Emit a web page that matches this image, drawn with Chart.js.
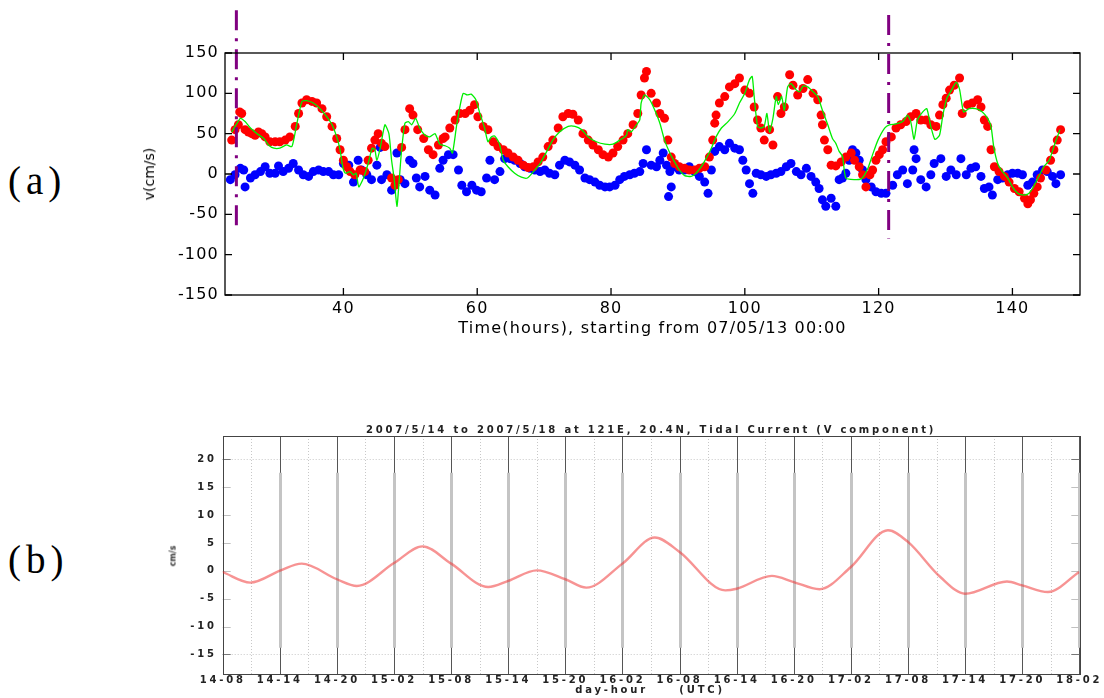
<!DOCTYPE html>
<html>
<head>
<meta charset="utf-8">
<script src="https://cdn.jsdelivr.net/npm/chart.js@4.4.0/dist/chart.umd.min.js"></script>
<style>
  body { margin: 0; background: #fff; width: 1104px; height: 698px; position: relative; overflow: hidden; }
  canvas { position: absolute; }
  .lbl { position: absolute; white-space: pre; color: #000; }
  .panel { font-family: "Liberation Serif", serif; font-size: 39px; line-height: 39px; letter-spacing: 5px; left: 8px; }
  .rot { transform: translate(-50%, -50%) rotate(-90deg); }
  .ctr { transform: translate(-50%, -50%); }
</style>
</head>
<body>
<canvas id="chartA" width="974" height="345" style="left:130px;top:0px;"></canvas>
<canvas id="chartB" width="974" height="283" style="left:130px;top:415px;"></canvas>

<div class="lbl panel" style="top:161px;">(a)</div>
<div class="lbl panel" style="top:540px;">(b)</div>
<div class="lbl rot" style="left:149px;top:174px;font:14px 'DejaVu Sans';">v(cm/s)</div>
<div class="lbl ctr" style="left:651px;top:429px;font:bold 10px 'DejaVu Sans';letter-spacing:2.8px;color:#222;">2007/5/14 to 2007/5/18 at 121E, 20.4N, Tidal Current (V component)</div>
<div class="lbl ctr" style="left:650px;top:689px;font:bold 10px 'DejaVu Sans';letter-spacing:2.8px;color:#222;">day-hour     (UTC)</div>
<div class="lbl rot" style="left:173px;top:556px;font:bold 8px 'DejaVu Sans';color:#333;">cm/s</div>

<script>
// (a) observed current, hours from 07/05/13 00:00
const redHours = [23.3, 23.8, 24.3, 24.5, 24.8, 25.3, 25.8, 26.3, 26.8, 27.3, 27.8, 28.3, 29.0, 29.8, 30.5, 31.3, 32.0, 32.8, 33.3, 33.8,
  34.5, 35.3, 36.0, 36.8, 37.5, 38.3, 39.0, 39.5, 40.0, 40.5, 41.0, 41.7, 42.5, 43.2, 43.7, 44.2, 44.7, 45.2, 45.7, 46.2,
  47.2, 47.7, 48.2, 48.7, 49.2, 49.9, 50.4, 51.1, 52.0, 52.7, 53.4, 54.2, 54.9, 55.2, 55.9, 56.7, 57.4, 58.2, 58.9, 59.6,
  60.1, 60.9, 61.6, 62.4, 63.1, 63.9, 64.6, 65.4, 66.1, 66.9, 67.6, 68.4, 69.1, 69.8, 70.6, 71.3, 72.1, 72.8, 73.6, 74.3,
  75.1, 75.8, 76.6, 77.3, 78.1, 78.8, 79.6, 80.3, 81.0, 81.8, 82.5, 83.3, 84.0, 84.5, 85.0, 85.3, 86.0, 86.8, 87.3, 88.0,
  88.5, 89.0, 89.5, 90.2, 91.0, 91.7, 92.5, 93.2, 94.0, 94.7, 95.2, 95.5, 95.7, 96.2, 97.0, 97.7, 98.5, 99.2, 100.0, 100.7,
  101.4, 101.9, 102.4, 102.9, 103.7, 104.2, 104.9, 105.4, 105.9, 106.7, 107.2, 107.9, 108.7, 109.4, 110.2, 110.9, 111.4, 111.6, 111.9, 112.4,
  112.9, 113.6, 114.4, 115.1, 115.9, 116.4, 117.1, 117.6, 118.1, 118.7, 119.1, 119.6, 120.1, 120.6, 121.1, 121.9, 122.6, 123.3, 124.1, 124.8,
  125.6, 126.3, 127.1, 127.8, 128.6, 129.1, 129.6, 130.1, 130.6, 131.3, 132.1, 132.5, 133.3, 134.0, 134.8, 135.3, 135.8, 136.3, 136.8, 137.3,
  138.0, 138.8, 139.5, 140.3, 141.0, 141.8, 142.3, 142.7, 143.2, 143.7, 144.2, 145.0, 145.7, 146.2, 146.7, 147.2];
const redVals = [42, 55, 61, 77, 75, 55, 52, 50, 48, 52, 50, 46, 40, 40, 40, 42, 46, 59, 75, 88,
  92, 90, 88, 81, 71, 59, 44, 30, 17, 9, 3, -1, 5, 3, 17, 32, 42, 50, 38, 34,
  -5, -14, -7, 33, 55, 81, 73, 55, 44, 30, 24, 36, 44, 46, 57, 67, 75, 75, 79, 86,
  71, 59, 55, 40, 34, 30, 26, 21, 17, 11, 8, 9, 15, 21, 34, 42, 57, 71, 75, 74,
  67, 50, 42, 36, 30, 24, 21, 26, 34, 42, 50, 61, 75, 98, 119, 127, 100, 88, 75, 69,
  42, 21, 13, 9, 7, 5, 5, 7, 9, 21, 42, 63, 73, 88, 96, 108, 112, 119, 104, 100,
  83, 67, 57, 42, 55, 36, 96, 75, 83, 123, 110, 98, 106, 117, 100, 92, 73, 61, 42, 30,
  11, 10, 15, 21, 26, 17, 9, -1, -16, -1, 5, 17, 24, 30, 40, 46, 57, 61, 65, 71,
  75, 67, 67, 61, 59, 73, 86, 94, 104, 110, 119, 75, 86, 88, 92, 83, 67, 59, 30, 9,
  3, -3, -10, -18, -22, -30, -37, -32, -24, -16, -5, 5, 17, 30, 42, 55];

const blueHours = [23.1, 23.8, 24.6, 25.1, 25.3, 26.1, 26.8, 27.6, 28.3, 29.0, 29.8, 30.3, 31.0, 31.8, 32.5, 33.3, 34.0, 34.8, 35.5, 36.3,
  37.0, 37.8, 38.5, 39.3, 40.0, 40.8, 41.5, 42.2, 42.7, 43.5, 44.2, 45.0, 45.5, 45.7, 46.5, 47.2, 48.0, 48.5, 49.2, 49.9,
  50.4, 50.9, 51.4, 52.2, 52.9, 53.7, 54.4, 54.9, 55.7, 56.4, 57.2, 57.7, 58.4, 59.2, 59.9, 60.6, 61.4, 61.9, 62.6, 63.4,
  64.1, 64.9, 65.6, 66.4, 67.1, 67.9, 68.6, 69.4, 70.1, 70.8, 71.6, 72.3, 73.1, 73.8, 74.6, 75.3, 76.1, 76.8, 77.6, 78.3,
  79.1, 79.8, 80.6, 81.3, 82.0, 82.8, 83.5, 84.3, 84.8, 85.3, 86.0, 86.8, 87.3, 87.8, 88.3, 88.6, 88.8, 89.0, 89.5, 90.2,
  91.0, 91.7, 92.5, 93.2, 94.0, 94.5, 95.0, 95.5, 96.2, 97.0, 97.7, 98.5, 99.2, 99.7, 100.2, 100.7, 101.2, 101.7, 102.4, 103.2,
  103.9, 104.7, 105.4, 106.2, 106.9, 107.7, 108.4, 109.2, 109.9, 110.6, 111.1, 111.6, 112.1, 112.9, 113.6, 114.1, 114.6, 115.1, 115.6, 116.1,
  116.6, 117.1, 117.6, 118.1, 118.9, 119.6, 120.4, 121.1, 122.1, 122.8, 123.6, 124.3, 125.1, 125.3, 125.6, 126.3, 127.1, 127.8, 128.3, 129.3,
  130.1, 130.8, 131.6, 132.3, 133.1, 133.8, 134.5, 135.3, 135.8, 136.5, 137.0, 137.8, 138.5, 139.3, 140.0, 140.8, 141.5, 142.3, 143.0, 143.7,
  144.5, 145.2, 146.0, 146.5, 147.2];
const blueVals = [-7, -1, 7, 5, -16, -5, -1, 3, 9, 1, 1, 10, 3, 7, 13, 5, -1, -3, 3, 5,
  3, 3, -1, -1, 13, 11, -10, 17, 5, -1, -7, 11, 33, -7, -1, -20, 26, -7, -12, 17,
  13, -5, -16, -3, -20, -26, 7, 17, 24, 24, 5, -14, -22, -14, -20, -22, -5, 17, -7, 3,
  19, 19, 17, 13, 9, 7, 5, 3, 5, 1, -1, 11, 17, 15, 11, 5, -5, -7, -10, -14,
  -16, -16, -14, -7, -3, -1, 1, 3, 13, 30, 11, 9, 17, 26, 11, -28, 3, -16, 9, 5,
  5, 9, 3, -3, -10, -24, 5, 28, 34, 30, 38, 32, 30, 17, 5, -12, -24, 1, -1, -3,
  -1, 1, 3, 9, 13, 3, -1, 7, -3, -10, -18, -32, -40, -30, -40, -7, -5, 1, 17, 30,
  26, 17, 5, -7, -16, -22, -24, -24, -14, -1, 5, -12, 5, 30, 19, -7, -16, -1, 13, 19,
  -3, 5, -1, 19, -1, 7, 9, -3, -18, -16, -26, -7, -5, -1, 1, 1, -1, -14, -10, -1,
  5, 3, -3, -12, -1];

const greenHours = [23.3, 24.1, 24.6, 25.3, 26.1, 27.1, 28.1, 28.8, 29.6, 30.5, 31.5, 32.3, 33.0, 33.8, 34.5, 35.5, 36.5, 37.5, 38.3, 39.0,
  39.5, 39.9, 40.3, 41.0, 41.5, 41.9, 42.3, 43.0, 43.7, 44.3, 44.7, 45.0, 45.5, 46.2, 46.8, 47.2, 47.6, 48.0, 48.3, 48.7,
  49.2, 49.7, 50.2, 50.8, 51.4, 52.2, 52.9, 53.7, 54.4, 55.2, 55.9, 56.3, 56.9, 57.4, 57.9, 58.5, 59.1, 59.8, 60.4, 61.1,
  61.6, 62.1, 62.6, 63.3, 63.9, 64.6, 65.6, 66.6, 67.5, 68.4, 69.4, 70.4, 71.3, 72.3, 73.6, 74.6, 75.6, 76.6, 77.8, 79.1,
  80.3, 81.3, 82.3, 82.5, 83.0, 83.8, 84.3, 84.5, 85.0, 85.8, 86.5, 87.3, 88.0, 88.8, 89.5, 90.2, 91.0, 92.0, 92.7, 93.5,
  94.2, 95.0, 95.7, 96.5, 97.5, 98.5, 99.2, 100.0, 100.7, 101.1, 101.4, 101.9, 102.4, 102.9, 103.3, 103.7, 104.2, 104.7, 105.0, 105.5,
  105.9, 106.4, 106.9, 107.7, 108.2, 108.7, 109.4, 110.2, 110.9, 111.6, 112.4, 113.1, 113.6, 114.1, 114.6, 115.1, 116.4, 117.4, 117.9, 118.4,
  119.1, 119.9, 120.9, 121.6, 122.6, 123.6, 124.3, 124.8, 125.3, 125.8, 126.6, 127.2, 127.8, 128.4, 129.1, 129.6, 130.2, 130.9, 131.6, 132.1,
  132.7, 133.5, 134.5, 135.5, 136.3, 136.8, 137.2, 137.8, 138.5, 139.3, 140.0, 140.8, 141.5, 142.3, 143.0, 143.7, 144.7, 145.5, 146.2, 147.1];
const greenVals = [52, 63, 69, 65, 57, 50, 44, 36, 32, 32, 36, 34, 61, 90, 91, 88, 81, 71, 61, 46,
  30, 9, 1, 3, -1, 1, -16, -5, 13, 32, 30, 17, 32, 61, 50, 17, -7, -40, -12, 30,
  63, 65, 61, 69, 57, 48, 46, 50, 37, 35, 32, 26, 59, 83, 100, 98, 99, 92, 75, 57,
  40, 46, 47, 38, 17, 9, 1, -4, -5, 3, 13, 28, 42, 52, 59, 59, 55, 46, 40, 37,
  37, 42, 48, 55, 52, 61, 67, 88, 98, 92, 80, 63, 42, 26, 15, 5, -2, -3, 1, 9,
  19, 32, 46, 57, 65, 75, 88, 100, 117, 121, 96, 59, 57, 59, 75, 52, 69, 96, 86, 96,
  79, 108, 112, 104, 102, 109, 108, 102, 96, 79, 61, 44, 38, 28, 22, -5, -7, -6, -1, 7,
  24, 42, 57, 61, 62, 65, 73, 65, 43, 67, 77, 81, 59, 43, 48, 73, 94, 104, 114, 105,
  77, 81, 81, 77, 69, 59, 34, 13, 3, -5, -16, -24, -26, -25, -18, -7, 9, 17, 34, 55];

const markerHours = [24, 121.5];
const markerTop = [203, 197];
const markerBottom = [-73, -80];

const xTicksA = [40, 60, 80, 100, 120, 140];
const yTicksA = [-150, -100, -50, 0, 50, 100, 150];

// (b) tidal current, hours from 14-08
const tideHours = [0, 2.9, 6.1, 8.3, 12, 14.1, 18, 21, 24, 27.9, 30, 33, 36, 38.2, 42, 45.4, 48, 52.8, 54, 57.7,
  60, 62.7, 66, 69.9, 72, 75.4, 78, 82.4, 84, 86.7, 90];
const tideVals = [-0.2, -2.1, 0.1, 1.3, -1.5, -2.7, 1.4, 4.4, 1.3, -2.9, -1.8, 0.1, -1.5, -3.0, 1.3, 6.0, 3.4, -3.5, -3.2, -0.9,
  -2.0, -3.3, 0.7, 7.3, 5.2, -1.1, -4.1, -1.9, -2.6, -3.8, -0.2];

const xTicksB = [0, 6, 12, 18, 24, 30, 36, 42, 48, 54, 60, 66, 72, 78, 84, 90];
const xLabelsB = ['14-08', '14-14', '14-20', '15-02', '15-08', '15-14', '15-20', '16-02', '16-08', '16-14', '16-20', '17-02', '17-08', '17-14', '17-20', '18-02'];
const xMinorB = [3, 9, 15, 21, 27, 33, 39, 45, 51, 57, 63, 69, 75, 81, 87];
const yTicksB = [-15, -10, -5, 0, 5, 10, 15, 20];
const yDottedB = [-15, 20];
const barRangeB = [-13.8, 17.6];

function pts(xs, ys) {
  return xs.map((x, i) => ({ x: x, y: ys[i] }));
}

const spacing = px => ({
  id: 'spacing',
  beforeDraw(chart) { chart.ctx.letterSpacing = px; },
  afterDraw(chart) { chart.ctx.letterSpacing = '0px'; }
});

const frameA = {
  id: 'frameA',
  afterDraw(chart) {
    const { ctx, chartArea: a, scales: { x, y } } = chart;
    ctx.save();
    ctx.strokeStyle = '#000';
    ctx.lineWidth = 1.3;
    ctx.strokeRect(a.left, a.top, a.right - a.left, a.bottom - a.top);
    ctx.beginPath();
    xTicksA.forEach(v => {
      const px = x.getPixelForValue(v);
      ctx.moveTo(px, a.bottom); ctx.lineTo(px, a.bottom - 7);
      ctx.moveTo(px, a.top); ctx.lineTo(px, a.top + 7);
    });
    yTicksA.forEach(v => {
      const py = y.getPixelForValue(v);
      ctx.moveTo(a.left, py); ctx.lineTo(a.left + 7, py);
      ctx.moveTo(a.right, py); ctx.lineTo(a.right - 7, py);
    });
    ctx.stroke();
    ctx.restore();
  }
};

const font16 = { family: 'DejaVu Sans', size: 16 };

new Chart(document.getElementById('chartA'), {
  type: 'scatter',
  data: {
    datasets: [
      {
        data: [{ x: markerHours[0], y: markerTop[0] }, { x: markerHours[0], y: markerBottom[0] }],
        showLine: true, borderColor: '#800080', borderWidth: 3, borderDash: [20, 8, 3, 8],
        pointRadius: 0, clip: false
      },
      {
        data: [{ x: markerHours[1], y: markerTop[1] }, { x: markerHours[1], y: markerBottom[1] }],
        showLine: true, borderColor: '#800080', borderWidth: 3, borderDash: [20, 8, 3, 8],
        pointRadius: 0, clip: false
      },
      {
        data: pts(greenHours, greenVals),
        showLine: true, borderColor: '#00ee00', borderWidth: 1.3, tension: 0.2, pointRadius: 0
      },
      {
        data: pts(redHours, redVals),
        pointRadius: 4.5, backgroundColor: '#ff0000', borderWidth: 0
      },
      {
        data: pts(blueHours, blueVals),
        pointRadius: 4.5, backgroundColor: '#0000ff', borderWidth: 0
      }
    ]
  },
  options: {
    responsive: false,
    animation: false,
    devicePixelRatio: 1,
    layout: { padding: { top: 53, right: 24, left: 0, bottom: 0 } },
    plugins: { legend: { display: false }, tooltip: { enabled: false } },
    scales: {
      x: {
        type: 'linear', min: 22.3, max: 150.1,
        grid: { display: false, drawTicks: false }, border: { display: false },
        afterBuildTicks: s => { s.ticks = xTicksA.map(v => ({ value: v })); },
        afterFit: s => { s.height = 50; },
        ticks: { font: font16, color: '#000', padding: 4, maxRotation: 0, autoSkip: false },
        title: {
          display: true, text: 'Time(hours), starting from 07/05/13 00:00',
          font: font16, color: '#000', padding: { top: 0, bottom: 7 }
        }
      },
      y: {
        min: -150, max: 150,
        grid: { display: false, drawTicks: false }, border: { display: false },
        afterBuildTicks: s => { s.ticks = yTicksA.map(v => ({ value: v })); },
        afterFit: s => { s.width = 95; },
        ticks: { font: font16, color: '#000', padding: 6 }
      }
    }
  },
  plugins: [spacing('1.2px'), frameA]
});

const gridB = {
  id: 'gridB',
  beforeDatasetsDraw(chart) {
    const { ctx, chartArea: a, scales: { x, y } } = chart;
    ctx.save();
    ctx.lineWidth = 1;
    ctx.strokeStyle = '#c8c8c8';
    ctx.setLineDash([1, 2]);
    ctx.beginPath();
    xMinorB.forEach(v => {
      const px = Math.round(x.getPixelForValue(v)) + 0.5;
      ctx.moveTo(px, a.top); ctx.lineTo(px, a.bottom);
    });
    yDottedB.forEach(v => {
      const py = Math.round(y.getPixelForValue(v)) + 0.5;
      ctx.moveTo(a.left, py); ctx.lineTo(a.right, py);
    });
    ctx.stroke();
    ctx.setLineDash([]);
    ctx.strokeStyle = '#555';
    ctx.beginPath();
    xTicksB.forEach(v => {
      const px = Math.round(x.getPixelForValue(v)) + 0.5;
      ctx.moveTo(px, a.top); ctx.lineTo(px, a.bottom);
    });
    ctx.stroke();
    ctx.strokeStyle = '#c4c4c4';
    ctx.lineWidth = 3;
    ctx.beginPath();
    xTicksB.slice(1).forEach(v => {
      const px = Math.round(x.getPixelForValue(v)) + 0.5;
      ctx.moveTo(px, y.getPixelForValue(barRangeB[1])); ctx.lineTo(px, y.getPixelForValue(barRangeB[0]));
    });
    ctx.stroke();
    ctx.lineWidth = 1;
    yTicksB.forEach(v => {
      const py = Math.round(y.getPixelForValue(v)) + 0.5;
      ctx.strokeStyle = yDottedB.includes(v) ? '#777' : '#c0c0c0';
      ctx.beginPath();
      ctx.moveTo(a.left, py); ctx.lineTo(a.left + 8, py);
      ctx.moveTo(a.right, py); ctx.lineTo(a.right - 8, py);
      ctx.stroke();
    });
    ctx.strokeStyle = '#444';
    ctx.strokeRect(Math.round(a.left) + 0.5, Math.round(a.top) + 0.5, Math.round(a.right - a.left), Math.round(a.bottom - a.top));
    ctx.restore();
  }
};

const font10 = { family: 'DejaVu Sans', size: 10, weight: 'bold' };

new Chart(document.getElementById('chartB'), {
  type: 'scatter',
  data: {
    datasets: [{
      data: pts(tideHours, tideVals),
      showLine: true, borderColor: 'rgba(240, 40, 40, 0.5)', borderWidth: 2.4,
      cubicInterpolationMode: 'monotone', pointRadius: 0
    }]
  },
  options: {
    responsive: false,
    animation: false,
    devicePixelRatio: 1,
    layout: { padding: { top: 21, right: 24.7, left: 0, bottom: 0 } },
    plugins: { legend: { display: false }, tooltip: { enabled: false } },
    scales: {
      x: {
        type: 'linear', min: 0, max: 90,
        grid: { display: false, drawTicks: false }, border: { display: false },
        afterBuildTicks: s => { s.ticks = xTicksB.map(v => ({ value: v })); },
        afterFit: s => { s.height = 24; },
        ticks: { font: font10, color: '#222', padding: 0, maxRotation: 0, autoSkip: false,
          callback: (v, i) => xLabelsB[i] }
      },
      y: {
        min: -18.5, max: 24.2,
        grid: { display: false, drawTicks: false }, border: { display: false },
        afterBuildTicks: s => { s.ticks = yTicksB.map(v => ({ value: v })); },
        afterFit: s => { s.width = 92.7; },
        ticks: { font: font10, color: '#222', padding: 6 }
      }
    }
  },
  plugins: [spacing('2.8px'), gridB]
});
</script>
</body>
</html>
